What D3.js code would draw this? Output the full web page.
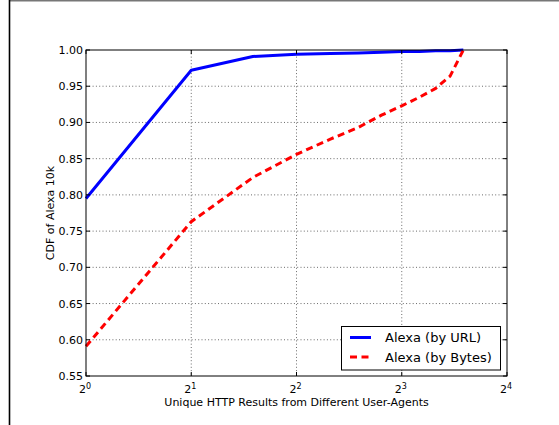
<!DOCTYPE html>
<html lang="en">
<head>
<meta charset="utf-8">
<title>CDF of Alexa 10k</title>
<script src="https://d3js.org/d3.v7.min.js"></script>
<style>
  body { margin: 0; background: #fff; }
  text { font-family: "DejaVu Sans", sans-serif; fill: #000; }
</style>
</head>
<body>
<script>

var w = 559;
var h = 425;

// unique results count (x) and CDF values
var counts = [1, 2, 3, 4, 5, 6, 7, 8, 9, 10, 11, 12];
var byUrl = [0.795, 0.972, 0.991, 0.994, 0.995, 0.996, 0.997, 0.998, 0.998, 0.999, 0.999, 1.0];
var byBytes = [0.591, 0.763, 0.824, 0.856, 0.877, 0.893, 0.910, 0.923, 0.935, 0.947, 0.964, 1.0];
var xTicks = [1, 2, 4, 8, 16];
var yTicks = [0.55, 0.60, 0.65, 0.70, 0.75, 0.80, 0.85, 0.90, 0.95, 1.00];
var seriesNames = ["Alexa (by URL)", "Alexa (by Bytes)"];

var pLeft = 86, pRight = 507, pTop = 50, pBottom = 376;

var x = d3.scaleLog().base(2).domain([1, 16]).range([pLeft, pRight]);
var y = d3.scaleLinear().domain([0.55, 1.0]).range([pBottom, pTop]);

var svg = d3.select("body").append("svg")
    .attr("width", w)
    .attr("height", h);

// window frame edges
svg.append("line")
    .attr("x1", 9).attr("x2", w).attr("y1", 0.8).attr("y2", 0.8)
    .attr("stroke", "#777").attr("stroke-width", 1.6);
svg.append("line")
    .attr("x1", 9.5).attr("x2", 9.5).attr("y1", 0).attr("y2", h)
    .attr("stroke", "#000").attr("stroke-width", 1.6);

// grid
var grid = svg.append("g")
    .attr("stroke", "#444")
    .attr("stroke-width", 0.8)
    .attr("stroke-dasharray", "1,2.3");
grid.selectAll(".gx")
    .data(xTicks.slice(1, -1))
    .enter().append("line")
    .attr("x1", function (d) { return x(d); })
    .attr("x2", function (d) { return x(d); })
    .attr("y1", pTop).attr("y2", pBottom);
grid.selectAll(".gy")
    .data(yTicks.slice(1, -1))
    .enter().append("line")
    .attr("x1", pLeft).attr("x2", pRight)
    .attr("y1", function (d) { return y(d); })
    .attr("y2", function (d) { return y(d); });

var line = d3.line()
    .x(function (d) { return x(d[0]); })
    .y(function (d) { return y(d[1]); });

svg.append("path")
    .attr("d", line(d3.zip(counts, byUrl)))
    .attr("fill", "none")
    .attr("stroke", "#0000ff")
    .attr("stroke-width", 3)
    .attr("stroke-linejoin", "round");

svg.append("path")
    .attr("d", line(d3.zip(counts, byBytes)))
    .attr("fill", "none")
    .attr("stroke", "#ff0000")
    .attr("stroke-width", 3)
    .attr("stroke-dasharray", "7,4.5");

// frame
svg.append("rect")
    .attr("x", pLeft).attr("y", pTop)
    .attr("width", pRight - pLeft).attr("height", pBottom - pTop)
    .attr("fill", "none")
    .attr("stroke", "#000")
    .attr("stroke-width", 1);

// inward ticks
var ticks = svg.append("g").attr("stroke", "#000").attr("stroke-width", 1);
xTicks.forEach(function (d) {
    ticks.append("line").attr("x1", x(d)).attr("x2", x(d)).attr("y1", pBottom).attr("y2", pBottom - 4);
    ticks.append("line").attr("x1", x(d)).attr("x2", x(d)).attr("y1", pTop).attr("y2", pTop + 4);
});
yTicks.forEach(function (d) {
    ticks.append("line").attr("x1", pLeft).attr("x2", pLeft + 4).attr("y1", y(d)).attr("y2", y(d));
    ticks.append("line").attr("x1", pRight).attr("x2", pRight - 4).attr("y1", y(d)).attr("y2", y(d));
});

// tick labels
svg.selectAll(".ylab")
    .data(yTicks)
    .enter().append("text")
    .attr("x", pLeft - 3)
    .attr("y", function (d) { return y(d) + 4; })
    .attr("text-anchor", "end")
    .attr("font-size", 11)
    .text(function (d) { return d.toFixed(2); });

var xl = svg.selectAll(".xlab")
    .data(xTicks)
    .enter().append("text")
    .attr("x", function (d) { return x(d) - 1; })
    .attr("y", 393)
    .attr("text-anchor", "middle")
    .attr("font-size", 11);
xl.append("tspan").text("2");
xl.append("tspan")
    .attr("font-size", 8)
    .attr("dy", -4)
    .text(function (d) { return Math.round(Math.log2(d)); });

// axis titles
svg.append("text")
    .attr("x", (pLeft + pRight) / 2)
    .attr("y", 406)
    .attr("text-anchor", "middle")
    .attr("font-size", 11)
    .text("Unique HTTP Results from Different User-Agents");

svg.append("text")
    .attr("transform", "translate(53.5," + (pTop + pBottom) / 2 + ") rotate(-90)")
    .attr("text-anchor", "middle")
    .attr("font-size", 11)
    .text("CDF of Alexa 10k");

// legend
var lg = svg.append("g");
lg.append("rect")
    .attr("x", 341.5).attr("y", 326.5)
    .attr("width", 159).attr("height", 43.5)
    .attr("fill", "#fff")
    .attr("stroke", "#000")
    .attr("stroke-width", 1);
var colors = ["#0000ff", "#ff0000"];
var dashes = [null, "7,4.5"];
seriesNames.forEach(function (name, i) {
    var ly = 337.5 + i * 19.5;
    lg.append("line")
        .attr("x1", 350).attr("x2", 371)
        .attr("y1", ly).attr("y2", ly)
        .attr("stroke", colors[i])
        .attr("stroke-width", 3)
        .attr("stroke-dasharray", dashes[i]);
    lg.append("text")
        .attr("x", 385)
        .attr("y", ly + 4.5)
        .attr("font-size", 13)
        .text(name);
});

</script>
</body>
</html>
